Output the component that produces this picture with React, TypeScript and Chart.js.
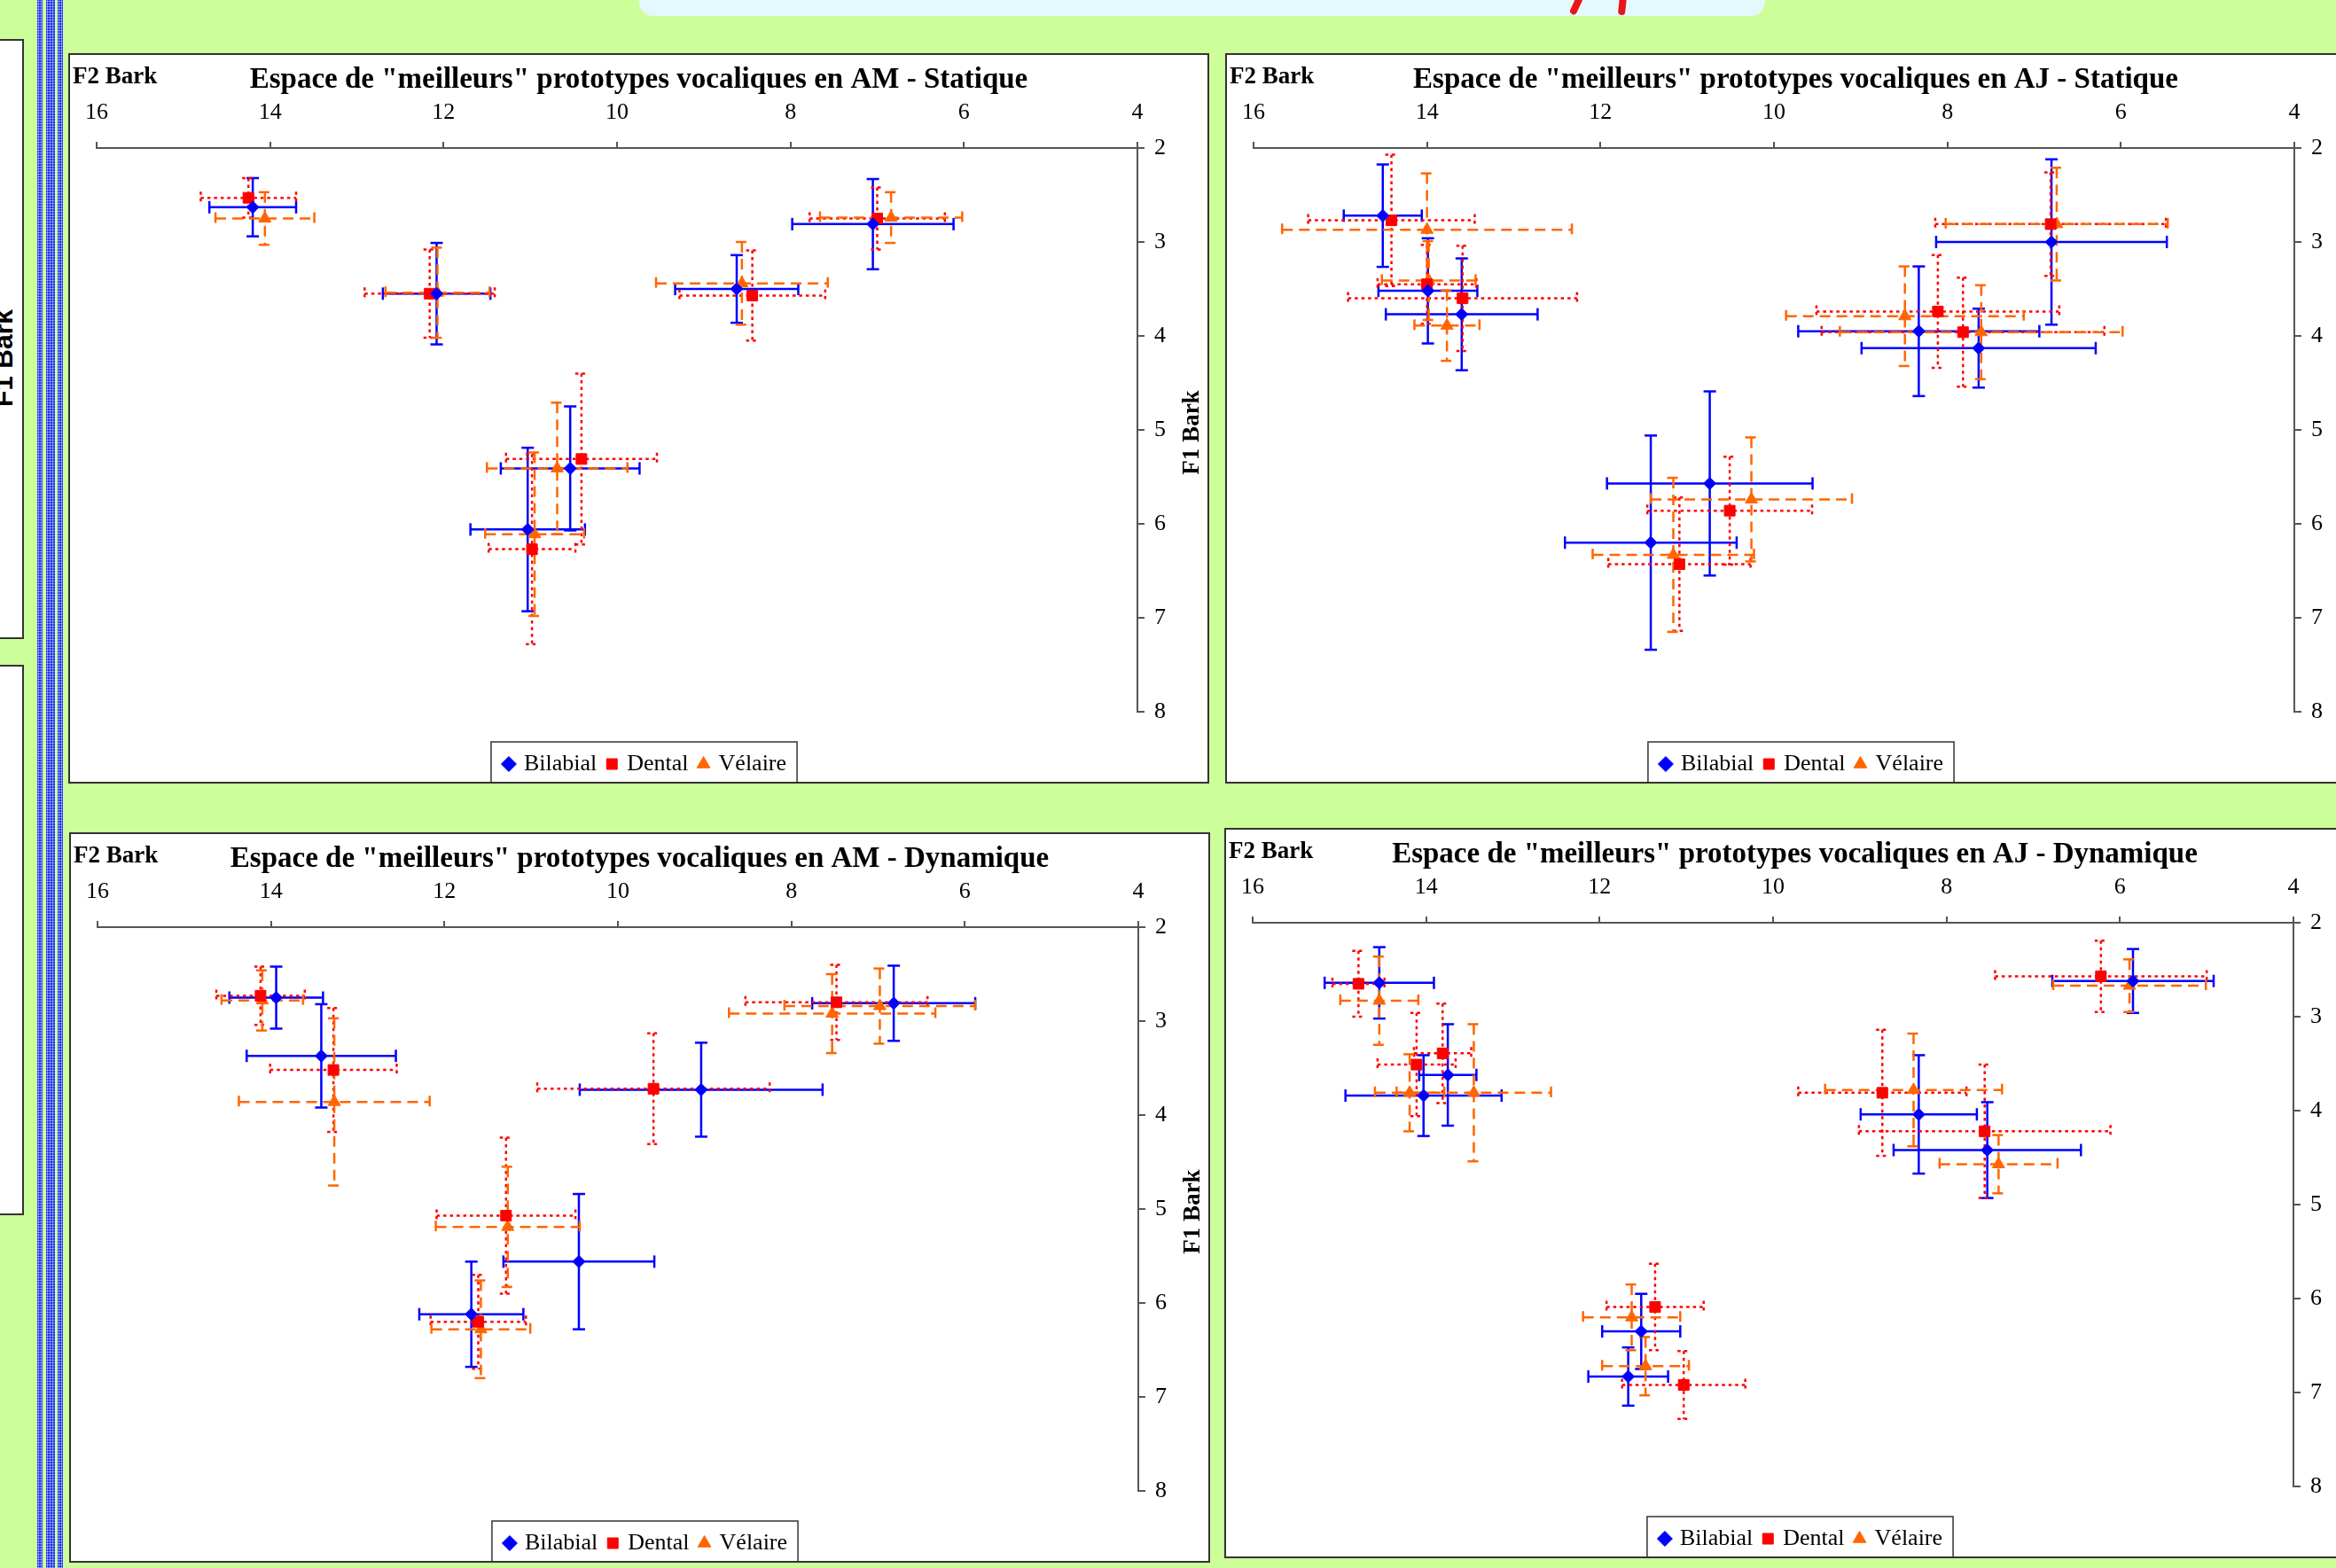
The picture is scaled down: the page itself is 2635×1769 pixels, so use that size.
import React, { useEffect, useRef } from 'react';
import { Chart, registerables } from 'chart.js';

Chart.register(...registerables);

// ---------- data ----------
const SERIES = ['Bilabial', 'Dental', 'Vélaire'];
const F2_TICKS = [16, 14, 12, 10, 8, 6, 4];
const F1_TICKS = [2, 3, 4, 5, 6, 7, 8];

const TITLE_AM_STAT = 'Espace de "meilleurs" prototypes vocaliques en AM - Statique';
const TITLE_AJ_STAT = 'Espace de "meilleurs" prototypes vocaliques en AJ - Statique';
const TITLE_AM_DYN = 'Espace de "meilleurs" prototypes vocaliques en AM - Dynamique';
const TITLE_AJ_DYN = 'Espace de "meilleurs" prototypes vocaliques en AJ - Dynamique';

// each row: [F2 Bark, F1 Bark, F2 error, F1 error]
const AM_STAT_BILABIAL = [
  [14.2, 2.63, 0.5, 0.31], [12.08, 3.55, 0.62, 0.54], [8.62, 3.5, 0.71, 0.36],
  [7.05, 2.81, 0.93, 0.48], [10.54, 5.41, 0.8, 0.66], [11.03, 6.06, 0.66, 0.87],
];
const AM_STAT_DENTAL = [
  [14.25, 2.53, 0.55, 0.21], [12.16, 3.55, 0.75, 0.47], [8.44, 3.57, 0.84, 0.48],
  [7.0, 2.75, 0.78, 0.33], [10.41, 5.31, 0.87, 0.91], [10.98, 6.27, 0.5, 1.01],
];
const AM_STAT_VELAIRE = [
  [14.06, 2.75, 0.57, 0.28], [12.07, 3.54, 0.6, 0.48], [8.56, 3.44, 0.99, 0.44],
  [6.84, 2.74, 0.82, 0.27], [10.69, 5.41, 0.81, 0.7], [10.95, 6.11, 0.57, 0.87],
];

const AJ_STAT_BILABIAL = [
  [14.51, 2.72, 0.45, 0.545], [13.99, 3.52, 0.57, 0.56], [13.6, 3.77, 0.875, 0.595],
  [8.33, 3.95, 1.39, 0.69], [7.64, 4.13, 1.35, 0.42], [6.8, 3.0, 1.33, 0.88],
  [10.74, 5.57, 1.185, 0.98], [11.42, 6.2, 0.99, 1.14],
];
const AJ_STAT_DENTAL = [
  [14.41, 2.77, 0.96, 0.7], [14.0, 3.45, 0.57, 0.42], [13.59, 3.6, 1.32, 0.56],
  [8.11, 3.74, 1.4, 0.6], [7.82, 3.96, 1.63, 0.58], [6.81, 2.81, 1.33, 0.55],
  [10.51, 5.86, 0.95, 0.575], [11.09, 6.43, 0.82, 0.71],
];
const AJ_STAT_VELAIRE = [
  [14.0, 2.87, 1.67, 0.6], [13.98, 3.41, 0.54, 0.42], [13.77, 3.89, 0.375, 0.375],
  [8.49, 3.79, 1.37, 0.53], [7.61, 3.96, 1.63, 0.5], [6.74, 2.81, 1.28, 0.6],
  [10.26, 5.74, 1.16, 0.66], [11.16, 6.33, 0.93, 0.82],
];

const AM_DYN_BILABIAL = [
  [13.94, 2.75, 0.54, 0.33], [13.42, 3.37, 0.86, 0.55], [9.04, 3.73, 1.4, 0.5],
  [6.82, 2.81, 0.94, 0.4], [10.45, 5.56, 0.87, 0.72], [11.69, 6.12, 0.6, 0.56],
];
const AM_DYN_DENTAL = [
  [14.12, 2.73, 0.51, 0.31], [13.28, 3.52, 0.73, 0.66], [9.59, 3.72, 1.34, 0.59],
  [7.48, 2.8, 1.05, 0.4], [11.29, 5.07, 0.8, 0.83], [11.61, 6.2, 0.55, 0.5],
];
const AM_DYN_VELAIRE = [
  [14.1, 2.78, 0.47, 0.32], [13.27, 3.86, 1.1, 0.89], [7.53, 2.92, 1.19, 0.42],
  [6.98, 2.84, 1.1, 0.4], [11.27, 5.19, 0.83, 0.64], [11.58, 6.28, 0.57, 0.52],
];

const AJ_DYN_BILABIAL = [
  [14.54, 2.64, 0.63, 0.38], [13.75, 3.62, 0.33, 0.54], [14.03, 3.84, 0.9, 0.43],
  [5.85, 2.62, 0.93, 0.34], [8.32, 4.04, 0.67, 0.63], [7.53, 4.42, 1.08, 0.51],
  [11.52, 6.35, 0.45, 0.4], [11.67, 6.83, 0.46, 0.31],
];
const AJ_DYN_DENTAL = [
  [14.78, 2.65, 0.3, 0.35], [13.81, 3.39, 0.33, 0.53], [14.11, 3.51, 0.45, 0.55],
  [6.22, 2.57, 1.22, 0.38], [8.74, 3.81, 0.97, 0.67], [7.56, 4.22, 1.45, 0.71],
  [11.36, 6.09, 0.56, 0.46], [11.03, 6.92, 0.71, 0.36],
];
const AJ_DYN_VELAIRE = [
  [14.54, 2.83, 0.45, 0.47], [14.19, 3.81, 0.4, 0.41], [13.45, 3.81, 0.89, 0.73],
  [5.89, 2.67, 0.88, 0.28], [8.38, 3.78, 1.02, 0.6], [7.4, 4.57, 0.68, 0.31],
  [11.63, 6.2, 0.56, 0.35], [11.47, 6.72, 0.5, 0.31],
];

// ---------- styles ----------
const COLORS = ['#0000FF', '#FF0000', '#FF6600'];
const MARKERS = ['rectRot', 'rect', 'triangle'];
const MARKER_RADIUS = [7, 8.5, 8];
const DASHES = [[], [3.5, 4], [12, 7]];
const SERIF = '"Liberation Serif", "Times New Roman", serif';
const CAP = 7;

function errorBarsPlugin(rows: number[][][]) {
  return {
    id: 'errorBars',
    beforeDatasetsDraw(chart: any) {
      const { ctx, scales } = chart;
      const xs = scales.x;
      const ys = scales.y;
      rows.forEach((series, si) => {
        ctx.save();
        ctx.strokeStyle = COLORS[si];
        ctx.lineWidth = 2.5;
        ctx.setLineDash(DASHES[si]);
        ctx.lineCap = 'butt';
        const seg = (a: number, b: number, c: number, d: number) => {
          ctx.beginPath();
          ctx.moveTo(a, b);
          ctx.lineTo(c, d);
          ctx.stroke();
        };
        series.forEach(([x, y, ex, ey]) => {
          const px = xs.getPixelForValue(x);
          const py = ys.getPixelForValue(y);
          const xa = xs.getPixelForValue(x + ex);
          const xb = xs.getPixelForValue(x - ex);
          const ya = ys.getPixelForValue(y - ey);
          const yb = ys.getPixelForValue(y + ey);
          seg(xa, py, xb, py);
          seg(px, ya, px, yb);
          seg(xa, py - CAP, xa, py + CAP);
          seg(xb, py - CAP, xb, py + CAP);
          seg(px - CAP, ya, px + CAP, ya);
          seg(px - CAP, yb, px + CAP, yb);
        });
        ctx.restore();
      });
    },
  };
}

const axisNamesPlugin = {
  id: 'axisNames',
  afterDraw(chart: any) {
    const { ctx, chartArea } = chart;
    ctx.save();
    ctx.fillStyle = '#000';
    ctx.font = 'bold 27px ' + SERIF;
    ctx.textBaseline = 'alphabetic';
    ctx.textAlign = 'left';
    ctx.fillText('F2 Bark', 3, 32);
    ctx.translate(chartArea.right + 69, (chartArea.top + chartArea.bottom) / 2 + 3);
    ctx.rotate(-Math.PI / 2);
    ctx.textAlign = 'center';
    ctx.fillText('F1 Bark', 0, 0);
    ctx.restore();
  },
};

const legendFramePlugin = {
  id: 'legendFrame',
  afterLayout(chart: any) {
    const lg = chart.legend;
    if (lg) {
      lg.left += 8;
      lg.right += 8;
    }
  },
  afterDraw(chart: any) {
    const lg = chart.legend;
    if (!lg || !lg.legendHitBoxes || !lg.legendHitBoxes.length) return;
    const hb = lg.legendHitBoxes;
    const l = Math.min(...hb.map((h: any) => h.left)) - 16;
    const r = Math.max(...hb.map((h: any) => h.left + h.width)) + 12;
    const t = lg.top + 1;
    const b = lg.bottom + 8;
    const ctx = chart.ctx;
    ctx.save();
    ctx.strokeStyle = '#333';
    ctx.lineWidth = 1.5;
    ctx.strokeRect(l, t, r - l, b - t);
    ctx.restore();
  },
};

function buildConfig(title: string, rows: number[][][]): any {
  return {
    type: 'scatter',
    data: {
      datasets: rows.map((series, i) => ({
        label: SERIES[i],
        data: series.map(([x, y]) => ({ x, y })),
        pointStyle: MARKERS[i],
        pointRadius: MARKER_RADIUS[i],
        pointHoverRadius: MARKER_RADIUS[i],
        backgroundColor: COLORS[i],
        borderColor: COLORS[i],
        borderWidth: 1,
        showLine: false,
      })),
    },
    options: {
      responsive: false,
      animation: false,
      devicePixelRatio: 1,
      events: [],
      layout: { padding: { left: 28, right: 28, top: 0, bottom: -3 } },
      plugins: {
        title: {
          display: true,
          text: title,
          color: '#000',
          font: { family: SERIF, size: 33, weight: 'bold' },
          padding: { top: 9, bottom: 0 },
        },
        legend: {
          display: true,
          position: 'bottom',
          labels: {
            usePointStyle: true,
            boxWidth: 8,
            boxHeight: 12,
            padding: 13,
            color: '#000',
            font: { family: SERIF, size: 26 },
          },
        },
        tooltip: { enabled: false },
      },
      scales: {
        x: {
          type: 'linear',
          position: 'top',
          min: 4,
          max: 16,
          reverse: true,
          afterBuildTicks: (s: any) => {
            s.ticks = F2_TICKS.map((v) => ({ value: v }));
          },
          afterFit: (s: any) => {
            s.height = 56.4;
          },
          ticks: { color: '#000', padding: 17, font: { family: SERIF, size: 26 } },
          grid: { drawOnChartArea: false, drawTicks: true, tickLength: 7, color: '#555', lineWidth: 2 },
          border: { display: true, color: '#555', width: 2 },
        },
        y: {
          type: 'linear',
          position: 'right',
          min: 2,
          max: 8,
          reverse: true,
          afterBuildTicks: (s: any) => {
            s.ticks = F1_TICKS.map((v) => ({ value: v }));
          },
          afterFit: (s: any) => {
            s.width = 51;
          },
          ticks: { color: '#000', padding: 11, font: { family: SERIF, size: 26 } },
          grid: { drawOnChartArea: false, drawTicks: true, tickLength: 8, color: '#555', lineWidth: 2 },
          border: { display: true, color: '#555', width: 2 },
        },
        gap: {
          type: 'linear',
          axis: 'x',
          position: 'bottom',
          display: true,
          min: 0,
          max: 1,
          afterFit: (s: any) => {
            s.height = 33;
          },
          ticks: { display: false },
          grid: { display: false, drawTicks: false },
          border: { display: false },
        },
      },
    },
    plugins: [errorBarsPlugin(rows), axisNamesPlugin, legendFramePlugin],
  };
}

function ChartPanel(props: { left: number; top: number; title: string; rows: number[][][] }) {
  const ref = useRef<HTMLCanvasElement | null>(null);
  useEffect(() => {
    if (!ref.current) return;
    const chart = new Chart(ref.current, buildConfig(props.title, props.rows));
    return () => chart.destroy();
  }, []);
  return (
    <div
      style={{
        position: 'absolute',
        left: props.left,
        top: props.top,
        width: 1287,
        height: 824,
        boxSizing: 'border-box',
        border: '2px solid #333',
        background: '#fff',
        overflow: 'hidden',
      }}
    >
      <canvas ref={ref} width={1283} height={820} style={{ display: 'block', width: 1283, height: 820 }} />
    </div>
  );
}

const stripeStyle = (left: number, width: number): React.CSSProperties => ({
  position: 'absolute',
  left,
  top: 0,
  width,
  height: 1769,
  backgroundColor: '#2233EE',
  backgroundImage: 'radial-gradient(circle, #B8C2FF 0.9px, transparent 1.1px)',
  backgroundSize: '3px 3px',
});

export default function App() {
  return (
    <div
      style={{
        position: 'fixed',
        left: 0,
        top: 0,
        width: 2635,
        height: 1769,
        overflow: 'hidden',
        background: '#CCFF99',
      }}
    >
      {/* top banner */}
      <div
        style={{
          position: 'absolute',
          left: 721,
          top: -20,
          width: 1270,
          height: 38,
          background: '#E4F9FD',
          borderRadius: 16,
        }}
      />
      <div
        style={{
          position: 'absolute',
          left: 1774,
          top: -5,
          width: 8,
          height: 22,
          background: '#E8161B',
          borderRadius: 4,
          transform: 'rotate(25deg)',
        }}
      />
      <div
        style={{
          position: 'absolute',
          left: 1826,
          top: -5,
          width: 8,
          height: 22,
          background: '#E8161B',
          borderRadius: 4,
          transform: 'rotate(6deg)',
        }}
      />

      {/* left strip */}
      <div
        style={{
          position: 'absolute',
          left: -4,
          top: 44,
          width: 31,
          height: 677,
          boxSizing: 'border-box',
          border: '2px solid #333',
          background: '#fff',
        }}
      />
      <div
        style={{
          position: 'absolute',
          left: -4,
          top: 750,
          width: 31,
          height: 621,
          boxSizing: 'border-box',
          border: '2px solid #333',
          background: '#fff',
        }}
      />
      <div
        style={{
          position: 'absolute',
          left: 3.6,
          top: 404,
          fontFamily: '"Liberation Sans", Arial, sans-serif',
          fontWeight: 'bold',
          fontSize: 30,
          lineHeight: '30px',
          whiteSpace: 'nowrap',
          color: '#000',
          transform: 'translate(-50%, -50%) rotate(-90deg)',
        }}
      >
        F1 Bark
      </div>
      <div style={stripeStyle(42, 6)} />
      <div style={stripeStyle(52, 10)} />
      <div style={stripeStyle(65, 6)} />

      <ChartPanel left={77} top={60} title={TITLE_AM_STAT} rows={[AM_STAT_BILABIAL, AM_STAT_DENTAL, AM_STAT_VELAIRE]} />
      <ChartPanel left={1382} top={60} title={TITLE_AJ_STAT} rows={[AJ_STAT_BILABIAL, AJ_STAT_DENTAL, AJ_STAT_VELAIRE]} />
      <ChartPanel left={78} top={939} title={TITLE_AM_DYN} rows={[AM_DYN_BILABIAL, AM_DYN_DENTAL, AM_DYN_VELAIRE]} />
      <ChartPanel left={1381} top={934} title={TITLE_AJ_DYN} rows={[AJ_DYN_BILABIAL, AJ_DYN_DENTAL, AJ_DYN_VELAIRE]} />
    </div>
  );
}
